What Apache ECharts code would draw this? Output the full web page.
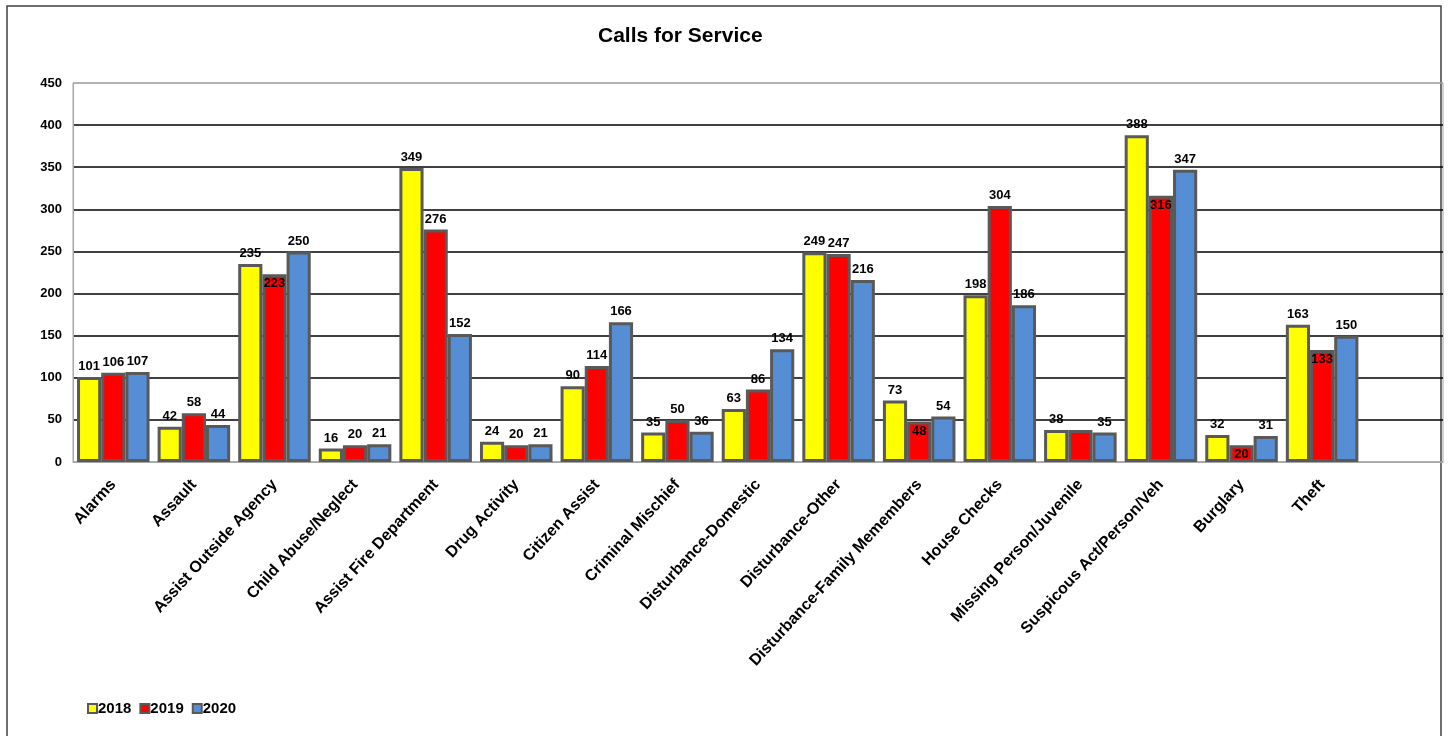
<!DOCTYPE html>
<html>
<head>
<meta charset="utf-8">
<script src="https://cdn.jsdelivr.net/npm/echarts@6/dist/echarts.min.js"></script>
<style>
html,body{margin:0;padding:0;background:#fff;}
#c{width:1449px;height:736px;}
</style>
</head>
<body>
<div id="c"></div>
<script>
var categories = ["Alarms","Assault","Assist Outside Agency","Child Abuse/Neglect","Assist Fire Department","Drug Activity","Citizen Assist","Criminal Mischief","Disturbance-Domestic","Disturbance-Other","Disturbance-Family Memembers","House Checks","Missing Person/Juvenile","Suspicous Act/Person/Veh","Burglary","Theft",""];
var seriesNames = ["2018","2019","2020"];
var values2018 = [101,42,235,16,349,24,90,35,63,249,73,198,38,388,32,163,null];
var values2019 = [106,58,223,20,276,20,114,50,86,247,48,304,38,316,20,133,null];
var values2020 = [107,44,250,21,152,21,166,36,134,216,54,186,35,347,31,150,null];
var yTicks = [0,50,100,150,200,250,300,350,400,450];

var colors = ["#FFFF00","#FF0000","#558ED5"];
var insideRed = [2,10,13,14,15];
var hidden = {"1-12":true};
var FONT = 'Liberation Sans, Arial, sans-serif';

function buildData(vals, si){
  return vals.map(function(v,i){
    var o = {value:v};
    if (si===1 && insideRed.indexOf(i)>=0) { o.label = {position:'insideTop', distance:3}; }
    if (hidden[si+'-'+i]) { o.label = {show:false}; }
    return o;
  });
}
var allVals = [values2018, values2019, values2020];
var series = seriesNames.map(function(n,si){
  return {
    name:n, type:'bar', barGap:'0%', barCategoryGap:'10%',
    data: buildData(allVals[si], si),
    itemStyle:{color:colors[si], borderColor:'#595959', borderWidth:3},
    label:{show:true, position:'top', distance:4, color:'#000', fontWeight:'bold', fontSize:13, fontFamily:FONT}
  };
});

var chart = echarts.init(document.getElementById('c'));
var gridColors = yTicks.map(function(t,i){ return (i===0||i===yTicks.length-1)?'#a6a6a6':'#000'; });
chart.setOption({
  animation:false,
  title:{text:'Calls for Service', left:593, top:21,
    textStyle:{fontSize:21, fontWeight:'bold', color:'#000', fontFamily:FONT}},
  legend:{data:seriesNames, left:82, top:696, icon:'rect', itemWidth:9, itemHeight:9, itemGap:8,
    textStyle:{fontSize:15, fontWeight:'bold', color:'#000', fontFamily:FONT, padding:[0,0,0,-4]}},
  grid:{left:73, right:6, top:83, bottom:274, show:true, borderColor:'#a6a6a6', borderWidth:1},
  xAxis:{type:'category', data:categories,
    axisLine:{lineStyle:{color:'#a6a6a6', width:1}}, axisTick:{show:false},
    axisLabel:{interval:0, rotate:47.5, color:'#000', fontWeight:'bold', fontSize:16, margin:20, fontFamily:FONT}},
  yAxis:{type:'value', min:0, max:450, interval:50,
    axisLine:{show:true, lineStyle:{color:'#a6a6a6'}}, axisTick:{show:false},
    splitLine:{lineStyle:{color:gridColors, width:1.5}},
    axisLabel:{color:'#000', fontWeight:'bold', fontSize:13, margin:11, fontFamily:FONT}},
  graphic:[{type:'rect', shape:{x:7,y:6,width:1434,height:740}, style:{fill:null, stroke:'#404040', lineWidth:1.5}, silent:true}],
  series:series
});
</script>
</body>
</html>
